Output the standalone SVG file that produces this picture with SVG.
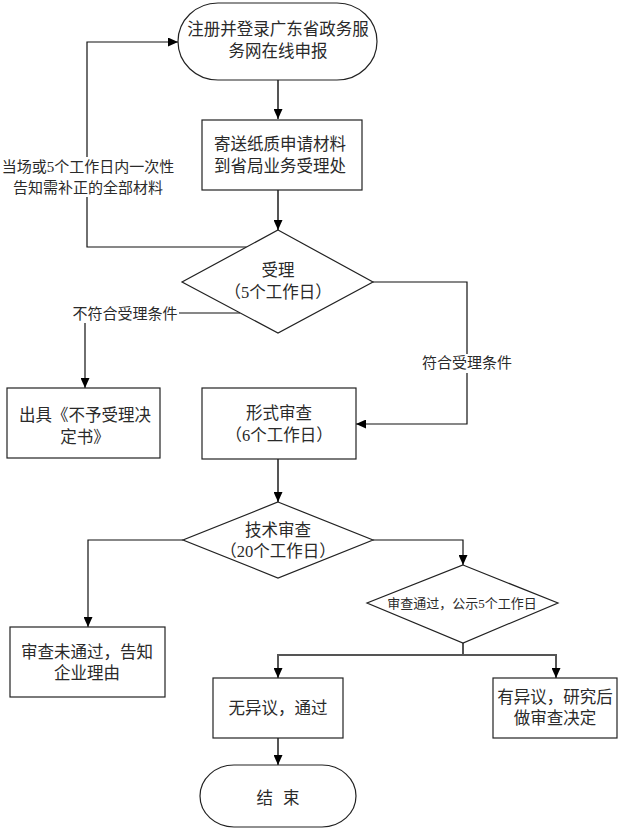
<svg xmlns="http://www.w3.org/2000/svg" width="622" height="829" viewBox="0 0 622 829">
<style>
.n{fill:#fff;stroke:#222;stroke-width:1.2}
.t{font-family:"Liberation Serif","Noto Sans CJK SC",serif;fill:#2a2a2a;text-anchor:middle;dominant-baseline:central}
.f16{font-size:16.5px}
.f15{font-size:15px}
.f13{font-size:13px}
.c{fill:none;stroke:#111;stroke-width:1.2}
.m{fill:none;stroke:#555;stroke-width:2}
.bg{fill:#fff}
</style>
<defs>
<marker id="ah" markerUnits="userSpaceOnUse" markerWidth="10" markerHeight="9" refX="10" refY="4.5" orient="auto">
<path d="M0,0 L10,4.5 L0,9 z" fill="#000"/>
</marker>
</defs>
<g id="connectors">
<path class="m" d="M278,80 V119" marker-end="url(#ah)"/>
<path class="m" d="M278,190 V230" marker-end="url(#ah)"/>
<path class="c" d="M246.6,247 H87 V42 H178" marker-end="url(#ah)"/>
<path class="c" d="M240,313 H85 V388" marker-end="url(#ah)"/>
<path class="c" d="M373,282 H467 V424 H356" marker-end="url(#ah)"/>
<path class="m" d="M278,459 V502" marker-end="url(#ah)"/>
<path class="c" d="M183,540 H88 V627" marker-end="url(#ah)"/>
<path class="c" d="M373,540 H463 V565" marker-end="url(#ah)"/>
<path class="m" d="M463,643 V655"/>
<path class="m" d="M463,655 H278 V678" marker-end="url(#ah)"/>
<path class="m" d="M463,655 H556 V678" marker-end="url(#ah)"/>
<path class="m" d="M278,738 V765" marker-end="url(#ah)"/>
</g>
<g id="label-resubmit">
<rect class="bg" x="0" y="157" width="178" height="40"/>
<text class="t f15" x="88" y="167">当场或5个工作日内一次性</text>
<text class="t f15" x="88" y="188">告知需补正的全部材料</text>
</g>
<g id="label-reject">
<rect class="bg" x="72" y="304" width="107" height="19"/>
<text class="t f15" x="125" y="314">不符合受理条件</text>
</g>
<g id="label-accept">
<rect class="bg" x="420" y="354" width="94" height="19"/>
<text class="t f15" x="467" y="363">符合受理条件</text>
</g>
<g id="start">
<rect class="n" x="178" y="3" width="199" height="77" rx="40" ry="38.5"/>
<text class="t f16" x="278" y="29">注册并登录广东省政务服</text>
<text class="t f16" x="278" y="51">务网在线申报</text>
</g>
<g id="send">
<rect class="n" x="202" y="120" width="160" height="70"/>
<text class="t f16" x="280" y="144">寄送纸质申请材料</text>
<text class="t f16" x="280" y="166">到省局业务受理处</text>
</g>
<g id="accept">
<polygon class="n" points="278,230 373,282 278,333 182,282"/>
<text class="t f16" x="278" y="270">受理</text>
<text class="t f16" x="278" y="292">（5个工作日）</text>
</g>
<g id="reject">
<rect class="n" x="7" y="388" width="153" height="70"/>
<text class="t f16" x="85" y="415">出具《不予受理决</text>
<text class="t f16" x="85" y="437">定书》</text>
</g>
<g id="formal">
<rect class="n" x="202" y="388" width="154" height="71"/>
<text class="t f16" x="279" y="413">形式审查</text>
<text class="t f16" x="279" y="435">（6个工作日）</text>
</g>
<g id="tech">
<polygon class="n" points="278,502 373,540 278,578 183,540"/>
<text class="t f16" x="278" y="530">技术审查</text>
<text class="t f16" x="278" y="551">（20个工作日）</text>
</g>
<g id="fail">
<rect class="n" x="10" y="627" width="155" height="70"/>
<text class="t f16" x="87" y="652">审查未通过，告知</text>
<text class="t f16" x="87" y="673">企业理由</text>
</g>
<g id="publicity">
<polygon class="n" points="463,565 558,603 463,643 367,603"/>
<text class="t f13" x="462" y="603">审查通过，公示5个工作日</text>
</g>
<g id="pass">
<rect class="n" x="213" y="678" width="130" height="60"/>
<text class="t f16" x="278" y="708">无异议，通过</text>
</g>
<g id="objection">
<rect class="n" x="493" y="678" width="124" height="60"/>
<text class="t f16" x="555" y="697">有异议，研究后</text>
<text class="t f16" x="555" y="718">做审查决定</text>
</g>
<g id="end">
<rect class="n" x="200" y="765" width="156" height="62" rx="34" ry="31"/>
<text class="t f16" x="278" y="798" word-spacing="6">结 束</text>
</g>
</svg>
